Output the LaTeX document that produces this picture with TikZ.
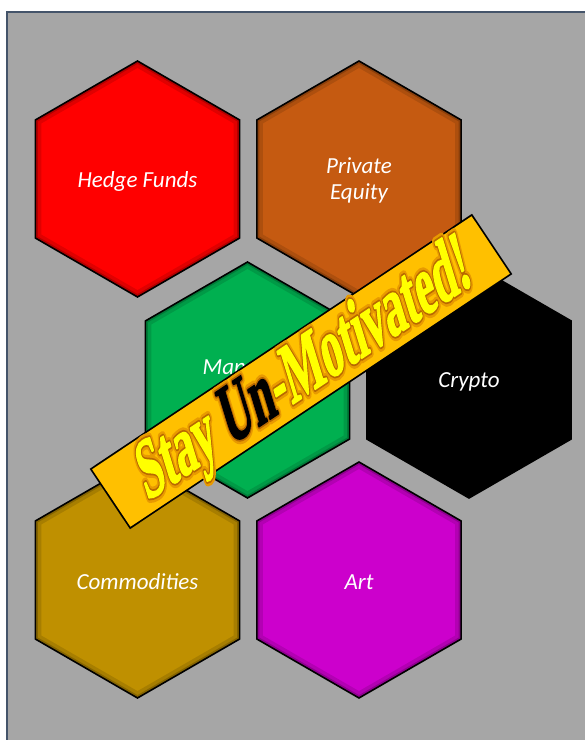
\documentclass[tikz,border=0pt]{standalone}
\usepackage{fontspec}
\setmainfont{Carlito}
\newfontfamily\bannerfont{Liberation Serif}
\definecolor{bgc}{HTML}{A6A6A6}
\definecolor{framec}{HTML}{44546A}
\definecolor{hexred}{HTML}{FF0000}
\definecolor{hexorange}{HTML}{C55A11}
\definecolor{hexgreen}{HTML}{00B050}
\definecolor{hexblack}{HTML}{000000}
\definecolor{hexgold}{HTML}{BF9000}
\definecolor{hexmagenta}{HTML}{CC00CC}
\definecolor{bannerc}{HTML}{FFC000}
\definecolor{yel}{HTML}{FFFF00}
\definecolor{glowa}{HTML}{E89A00}
\definecolor{glowb}{HTML}{B86800}
\tikzset{
  hexlabel/.style={text=white, align=center, font=\itshape\fontsize{23}{26}\selectfont},
  bannerbox/.style={draw=black, line width=1.6pt, fill=bannerc, rotate=33.7,
    minimum width=458pt, minimum height=71pt, inner sep=0pt},
  bannertxt/.style={rotate=33.7, xslant=0.3, inner sep=0pt, font=\bannerfont\bfseries\fontsize{80}{80}\selectfont},
}
\def\hexpath#1{(#1) +(90:118) -- +(150:118) -- +(210:118) -- +(270:118) -- +(330:118) -- +(30:118) -- cycle}
\newcommand\hexcell[4]{%
  \coordinate (#1) at (#2,#3);
  \begin{scope}
    \clip \hexpath{#1};
    \fill[#4] \hexpath{#1};
    \draw[black,opacity=0.12,line width=12pt] \hexpath{#1};
    \draw[black,opacity=0.2,line width=5pt] \hexpath{#1};
  \end{scope}
  \draw[black,line width=1.6pt,line join=miter] \hexpath{#1};
}
\newcommand\bannerwords[1]{\scalebox{0.58}[1]{#1}}
\newcommand\strokedwords[3]{\special{pdf:literal direct #1 Tr #2 w 1 j}\bannerwords{#3}\special{pdf:literal direct 0 Tr 1 w 0 j}}
\begin{document}
\begin{tikzpicture}[x=1pt,y=1pt]
\useasboundingbox (0,0) rectangle (585,740);
\fill[white] (0,0) rectangle (585,740);
\fill[bgc] (7,0) rectangle (585,728);
\draw[framec,line width=1.4pt] (7,-2) -- (7,728) -- (587,728);

\hexcell{red}{137.5}{561}{hexred}
\hexcell{orange}{359}{561}{hexorange}
\hexcell{green}{247.5}{360}{hexgreen}
\hexcell{black}{469}{360}{hexblack}
\hexcell{gold}{137.5}{160}{hexgold}
\hexcell{magenta}{359}{160}{hexmagenta}

\node[hexlabel] (lhedge) at ([yshift=-2pt]red) {Hedge Funds};
\node[hexlabel] (lpe) at ([yshift=-1pt]orange) {Private\\Equity};
\node[hexlabel] (lman) at ([yshift=12pt]green) {Managed};
\node[hexlabel] (lcrypto) at ([yshift=-2pt]black) {Crypto};
\node[hexlabel] (lcom) at ([yshift=-2pt]gold) {Commodities};
\node[hexlabel] (lart) at ([yshift=-2pt]magenta) {Art};

\node[bannerbox] (banner) at (301,368.5) {};
\node[bannertxt, text=glowa] (glowout) at (305,367) {\strokedwords{1}{10}{Stay Un-Motivated!}};
\node[bannertxt, text=glowb] (glowin) at (305,367) {\strokedwords{1}{5}{Stay Un-Motivated!}};
\node[bannertxt] (btext) at (305,367) {\strokedwords{2}{1.6}{\textcolor{yel}{Stay }\textcolor{black}{Un}\textcolor{yel}{-Motivated!}}};
\end{tikzpicture}
\end{document}
